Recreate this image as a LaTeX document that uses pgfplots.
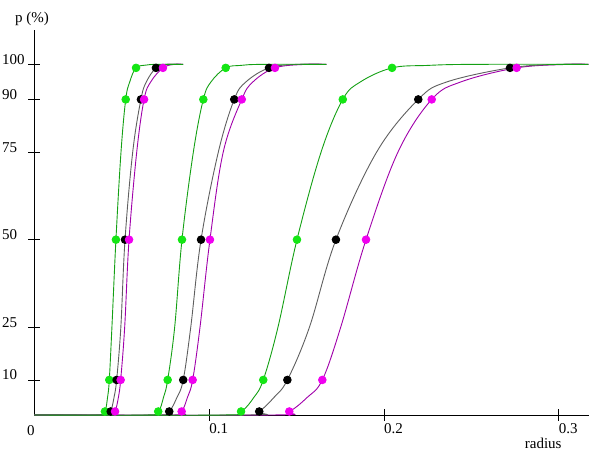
\documentclass[border=0pt]{standalone}
\usepackage{pgfplots}
\pgfplotsset{compat=1.18}
\usepackage{fontspec}
\setmainfont{Liberation Serif}
\definecolor{gline}{RGB}{20,160,20}
\definecolor{gmark}{RGB}{20,230,20}
\definecolor{kline}{RGB}{95,95,95}
\definecolor{mline}{RGB}{160,0,170}
\definecolor{mmark}{RGB}{240,0,240}
\begin{document}
\begin{tikzpicture}
\begin{axis}[
 scale only axis, width=554.5pt, height=385pt,
 xmin=0, xmax=0.3173, ymin=0, ymax=109.8,
 axis lines=left, axis line style={line width=1pt, -},
 xtick={0.1,0.2,0.3}, xticklabels={0.1,0.2,0.3},
 ytick={10,25,50,75,90,100},
 tick align=center, major tick length=12pt, tick style={black, line width=0.8pt},
 xticklabel style={anchor=north west, inner sep=0pt, yshift=-2pt},
 yticklabel style={anchor=base west, inner sep=0pt, xshift=-26.5pt},
 ticklabel style={font=\fontsize{15}{17}\selectfont},
 /pgf/number format/assume math mode=true,
 clip=false,
 every axis plot/.append style={line width=0.9pt},
]
\coordinate (O) at (rel axis cs:0,0);
\coordinate (TR) at (rel axis cs:1,1);
% ---------- group 1 ----------
\addplot[mline, smooth, tension=0.6] coordinates {(0,0) (0.0435,0) (0.0461,1) (0.048,5) (0.0493,10) (0.0516,25) (0.0541,50) (0.0585,75) (0.0627,90) (0.0665,95) (0.0735,99) (0.080,100) (0.085,100)};
\addplot[kline, smooth, tension=0.6] coordinates {(0,0) (0.041,0) (0.0436,1) (0.0455,5) (0.0470,10) (0.0494,25) (0.0518,50) (0.0562,75) (0.0609,90) (0.064,95) (0.0695,99) (0.075,100) (0.085,100)};
\addplot[gline, smooth, tension=0.6] coordinates {(0,0) (0.037,0) (0.0403,1) (0.0418,5) (0.0428,10) (0.0443,25) (0.0466,50) (0.0495,75) (0.0522,90) (0.0545,95) (0.0581,99) (0.064,99.8) (0.070,100) (0.085,100)};
% ---------- group 2 ----------
\addplot[mline, smooth, tension=0.6] coordinates {(0,0) (0.079,0) (0.0842,1) (0.0875,5) (0.0905,10) (0.0947,25) (0.1004,50) (0.1080,75) (0.1186,90) (0.125,95) (0.1376,99) (0.155,100) (0.167,100)};
\addplot[kline, smooth, tension=0.6] coordinates {(0,0) (0.072,0) (0.0771,1) (0.0815,5) (0.0851,10) (0.0894,25) (0.0953,50) (0.1052,75) (0.1143,90) (0.121,95) (0.1342,99) (0.150,100) (0.167,100)};
\addplot[gline, smooth, tension=0.6] coordinates {(0,0) (0.064,0) (0.0708,1) (0.0738,5) (0.0762,10) (0.0802,25) (0.0844,50) (0.0909,75) (0.0966,90) (0.101,95) (0.1094,99) (0.118,99.7) (0.130,100) (0.167,100)};
% ---------- group 3 ----------
\addplot[mline, smooth, tension=0.6] coordinates {(0,0) (0.136,0) (0.1458,1) (0.156,5) (0.1647,10) (0.1752,25) (0.1897,50) (0.2080,75) (0.2273,90) (0.244,95) (0.2759,99) (0.305,100) (0.317,100)};
\addplot[kline, smooth, tension=0.6] coordinates {(0,0) (0.122,0) (0.1286,1) (0.137,5) (0.1447,10) (0.1573,25) (0.1725,50) (0.1958,75) (0.2196,90) (0.236,95) (0.2721,99) (0.300,100) (0.317,100)};
\addplot[gline, smooth, tension=0.6] coordinates {(0,0) (0.108,0) (0.1182,1) (0.1255,5) (0.1309,10) (0.1393,25) (0.1502,50) (0.1640,75) (0.1764,90) (0.1865,95) (0.2046,99) (0.225,99.7) (0.250,100) (0.317,100)};
% ---------- marks ----------
\addplot[only marks, mark=*, mark size=3.8pt, gmark, mark options={draw=gmark, fill=gmark}] coordinates {
(0.0403,1) (0.0428,10) (0.0466,50) (0.0522,90) (0.0581,99)
(0.0708,1) (0.0762,10) (0.0844,50) (0.0966,90) (0.1094,99)
(0.1182,1) (0.1309,10) (0.1502,50) (0.1764,90) (0.2046,99)};
\addplot[only marks, mark=*, mark size=3.8pt, black, mark options={draw=black, fill=black}] coordinates {
(0.0436,1) (0.0470,10) (0.0518,50) (0.0609,90) (0.0695,99)
(0.0771,1) (0.0851,10) (0.0953,50) (0.1143,90) (0.1342,99)
(0.1286,1) (0.1447,10) (0.1725,50) (0.2196,90) (0.2721,99)};
\addplot[only marks, mark=*, mark size=3.8pt, mmark, mark options={draw=mmark, fill=mmark}] coordinates {
(0.0461,1) (0.0493,10) (0.0541,50) (0.0627,90) (0.0735,99)
(0.0842,1) (0.0905,10) (0.1004,50) (0.1186,90) (0.1376,99)
(0.1458,1) (0.1647,10) (0.1897,50) (0.2273,90) (0.2759,99)};
\node[anchor=base west, inner sep=0pt, xshift=-19.5pt, yshift=7pt, font=\fontsize{15}{17}\selectfont] at (rel axis cs:0,1) {p (\%)};
\node[anchor=base east, inner sep=0pt, xshift=3pt, yshift=-33pt, font=\fontsize{15}{17}\selectfont] at (axis cs:0.3,0) {radius};
\node[anchor=base, inner sep=0pt, xshift=-3.5pt, yshift=-20pt, font=\fontsize{15}{17}\selectfont] at (axis cs:0,0) {0};
\end{axis}
\pgfresetboundingbox
\path[use as bounding box] ([xshift=-34.5pt,yshift=-40pt]O) rectangle ([yshift=30pt]TR);
\end{tikzpicture}
\end{document}
